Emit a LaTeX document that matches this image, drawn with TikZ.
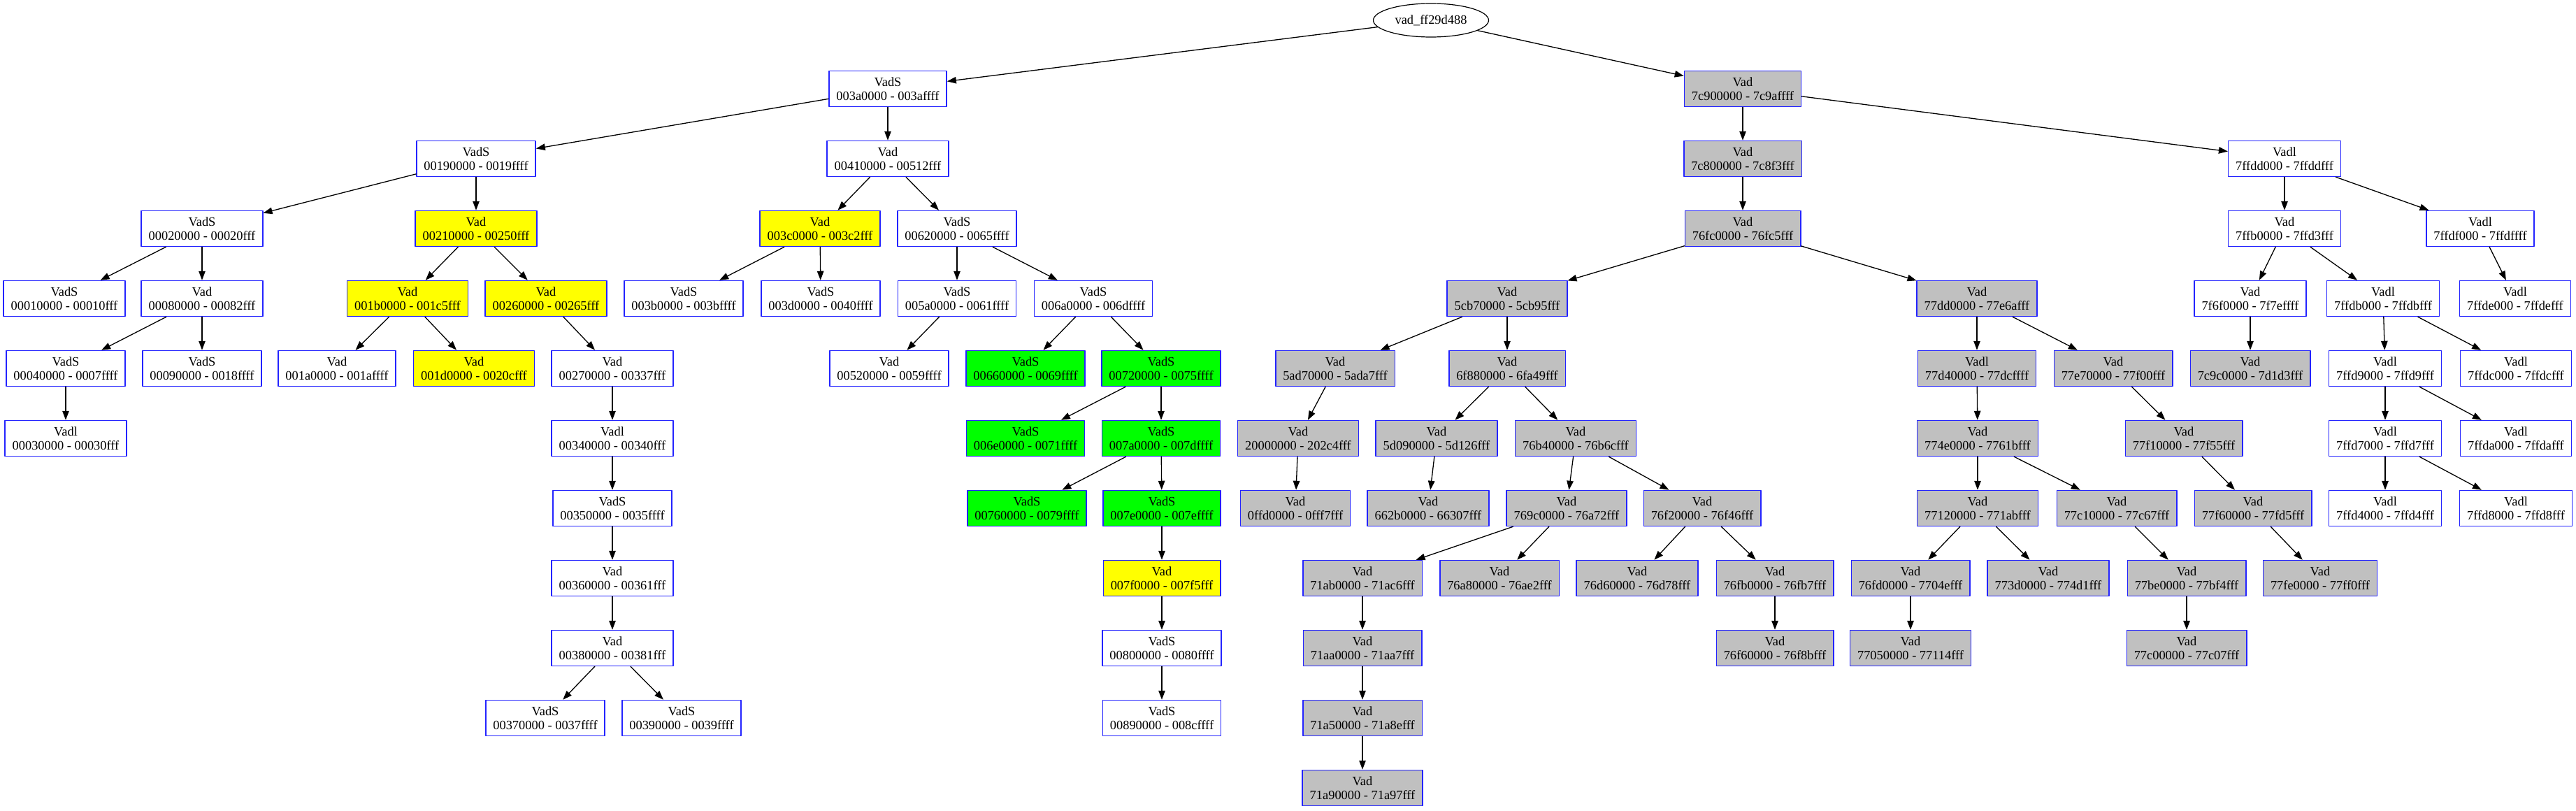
\documentclass[tikz,border=0pt]{standalone}
\usepackage{fontspec}
\setmainfont{Liberation Serif}
\usetikzlibrary{arrows.meta,shapes.geometric}

\definecolor{vadblue}{RGB}{35,35,255}
\definecolor{vadgray}{RGB}{192,192,192}
\definecolor{vadyellow}{RGB}{255,255,0}
\definecolor{vadgreen}{RGB}{0,255,0}

\begin{document}
\begin{tikzpicture}[>={Triangle[length=13pt,width=9.5pt]}, line cap=round, line join=round,
  x=1pt, y=-100pt,
  vad/.style={draw=vadblue, line width=1.5pt, fill=white, align=center,
    minimum height=51pt, inner xsep=10.5pt, inner ysep=2pt,
    font=\fontsize{18.4}{19.7}\selectfont},
  vadgr/.style={vad, fill=vadgray},
  vadye/.style={vad, fill=vadyellow},
  vadgn/.style={vad, fill=vadgreen},
  link/.style={->, line width=1.3pt}]

% ----------------------------
% PAGE (one level = 100pt)
% ----------------------------
\useasboundingbox (0,-0.27) rectangle (3685,11.32);

% ----------------------------
% ROOT
% ----------------------------
\node[ellipse, draw, line width=1.2pt, minimum width=165pt, minimum height=48pt,
  inner sep=0pt, font=\fontsize{18.4}{19.7}\selectfont] (root) at (2047,0.02) {vad\_ff29d488};

% ----------------------------
% LEVEL 1-3
% ----------------------------
\node[vad]   (v003a0000) at (1270,1) {VadS\\003a0000 - 003affff};
\node[vadgr] (v7c900000) at (2493,1) {Vad\\7c900000 - 7c9affff};

\node[vad]   (v00190000) at (681,2)  {VadS\\00190000 - 0019ffff};
\node[vad]   (v00410000) at (1270,2) {Vad\\00410000 - 00512fff};
\node[vadgr] (v7c800000) at (2493,2) {Vad\\7c800000 - 7c8f3fff};
\node[vad]   (v7ffdd000) at (3268,2) {Vadl\\7ffdd000 - 7ffddfff};

\node[vad]   (v00020000) at (289,3)  {VadS\\00020000 - 00020fff};
\node[vadye] (v00210000) at (681,3)  {Vad\\00210000 - 00250fff};
\node[vadye] (v003c0000) at (1173,3) {Vad\\003c0000 - 003c2fff};
\node[vad]   (v00620000) at (1369,3) {VadS\\00620000 - 0065ffff};
\node[vadgr] (v76fc0000) at (2493,3) {Vad\\76fc0000 - 76fc5fff};
\node[vad]   (v7ffb0000) at (3268,3) {Vad\\7ffb0000 - 7ffd3fff};
\node[vad]   (v7ffdf000) at (3548,3) {Vadl\\7ffdf000 - 7ffdffff};

% ----------------------------
% LEVEL 4-5
% ----------------------------
\node[vad]   (v00010000) at (92,4)   {VadS\\00010000 - 00010fff};
\node[vad]   (v00080000) at (289,4)  {Vad\\00080000 - 00082fff};
\node[vadye] (v001b0000) at (583,4)  {Vad\\001b0000 - 001c5fff};
\node[vadye] (v00260000) at (781,4)  {Vad\\00260000 - 00265fff};
\node[vad]   (v003b0000) at (978,4)  {VadS\\003b0000 - 003bffff};
\node[vad]   (v003d0000) at (1174,4) {VadS\\003d0000 - 0040ffff};
\node[vad]   (v005a0000) at (1369,4) {VadS\\005a0000 - 0061ffff};
\node[vad]   (v006a0000) at (1564,4) {VadS\\006a0000 - 006dffff};
\node[vadgr] (v5cb70000) at (2156,4) {Vad\\5cb70000 - 5cb95fff};
\node[vadgr] (v77dd0000) at (2828,4) {Vad\\77dd0000 - 77e6afff};
\node[vad]   (v7f6f0000) at (3219,4) {Vad\\7f6f0000 - 7f7effff};
\node[vad]   (v7ffdb000) at (3409,4) {Vadl\\7ffdb000 - 7ffdbfff};
\node[vad]   (v7ffde000) at (3598,4) {Vadl\\7ffde000 - 7ffdefff};

\node[vad]   (v00040000) at (94,5)   {VadS\\00040000 - 0007ffff};
\node[vad]   (v00090000) at (289,5)  {VadS\\00090000 - 0018ffff};
\node[vad]   (v001a0000) at (482,5)  {Vad\\001a0000 - 001affff};
\node[vadye] (v001d0000) at (678,5)  {Vad\\001d0000 - 0020cfff};
\node[vad]   (v00270000) at (876,5)  {Vad\\00270000 - 00337fff};
\node[vad]   (v00520000) at (1272,5) {Vad\\00520000 - 0059ffff};
\node[vadgn] (v00660000) at (1467,5) {VadS\\00660000 - 0069ffff};
\node[vadgn] (v00720000) at (1661,5) {VadS\\00720000 - 0075ffff};
\node[vadgr] (v5ad70000) at (1910,5) {Vad\\5ad70000 - 5ada7fff};
\node[vadgr] (v6f880000) at (2156,5) {Vad\\6f880000 - 6fa49fff};
\node[vadgr] (v77d40000) at (2828,5) {Vadl\\77d40000 - 77dcffff};
\node[vadgr] (v77e70000) at (3023,5) {Vad\\77e70000 - 77f00fff};
\node[vadgr] (v7c9c0000) at (3219,5) {Vad\\7c9c0000 - 7d1d3fff};
\node[vad]   (v7ffd9000) at (3412,5) {Vadl\\7ffd9000 - 7ffd9fff};
\node[vad]   (v7ffdc000) at (3599,5) {Vadl\\7ffdc000 - 7ffdcfff};

% ----------------------------
% LEVEL 6-7
% ----------------------------
\node[vad]   (v00030000) at (94,6)   {Vadl\\00030000 - 00030fff};
\node[vad]   (v00340000) at (876,6)  {Vadl\\00340000 - 00340fff};
\node[vadgn] (v006e0000) at (1467,6) {VadS\\006e0000 - 0071ffff};
\node[vadgn] (v007a0000) at (1661,6) {VadS\\007a0000 - 007dffff};
\node[vadgr] (v20000000) at (1857,6) {Vad\\20000000 - 202c4fff};
\node[vadgr] (v5d090000) at (2055,6) {Vad\\5d090000 - 5d126fff};
\node[vadgr] (v76b40000) at (2254,6) {Vad\\76b40000 - 76b6cfff};
\node[vadgr] (v774e0000) at (2829,6) {Vad\\774e0000 - 7761bfff};
\node[vadgr] (v77f10000) at (3124,6) {Vad\\77f10000 - 77f55fff};
\node[vad]   (v7ffd7000) at (3412,6) {Vadl\\7ffd7000 - 7ffd7fff};
\node[vad]   (v7ffda000) at (3599,6) {Vadl\\7ffda000 - 7ffdafff};

\node[vad]   (v00350000) at (876,7)  {VadS\\00350000 - 0035ffff};
\node[vadgn] (v00760000) at (1469,7) {VadS\\00760000 - 0079ffff};
\node[vadgn] (v007e0000) at (1662,7) {VadS\\007e0000 - 007effff};
\node[vadgr] (v0ffd0000) at (1853,7) {Vad\\0ffd0000 - 0fff7fff};
\node[vadgr] (v662b0000) at (2043,7) {Vad\\662b0000 - 66307fff};
\node[vadgr] (v769c0000) at (2241,7) {Vad\\769c0000 - 76a72fff};
\node[vadgr] (v76f20000) at (2435,7) {Vad\\76f20000 - 76f46fff};
\node[vadgr] (v77120000) at (2829,7) {Vad\\77120000 - 771abfff};
\node[vadgr] (v77c10000) at (3028,7) {Vad\\77c10000 - 77c67fff};
\node[vadgr] (v77f60000) at (3223,7) {Vad\\77f60000 - 77fd5fff};
\node[vad]   (v7ffd4000) at (3412,7) {Vadl\\7ffd4000 - 7ffd4fff};
\node[vad]   (v7ffd8000) at (3599,7) {Vadl\\7ffd8000 - 7ffd8fff};

% ----------------------------
% LEVEL 8-11
% ----------------------------
\node[vad]   (v00360000) at (876,8)  {Vad\\00360000 - 00361fff};
\node[vadye] (v007f0000) at (1662,8) {Vad\\007f0000 - 007f5fff};
\node[vadgr] (v71ab0000) at (1949,8) {Vad\\71ab0000 - 71ac6fff};
\node[vadgr] (v76a80000) at (2145,8) {Vad\\76a80000 - 76ae2fff};
\node[vadgr] (v76d60000) at (2342,8) {Vad\\76d60000 - 76d78fff};
\node[vadgr] (v76fb0000) at (2539,8) {Vad\\76fb0000 - 76fb7fff};
\node[vadgr] (v76fd0000) at (2733,8) {Vad\\76fd0000 - 7704efff};
\node[vadgr] (v773d0000) at (2930,8) {Vad\\773d0000 - 774d1fff};
\node[vadgr] (v77be0000) at (3128,8) {Vad\\77be0000 - 77bf4fff};
\node[vadgr] (v77fe0000) at (3319,8) {Vad\\77fe0000 - 77ff0fff};

\node[vad]   (v00380000) at (876,9)  {Vad\\00380000 - 00381fff};
\node[vad]   (v00800000) at (1662,9) {VadS\\00800000 - 0080ffff};
\node[vadgr] (v71aa0000) at (1949,9) {Vad\\71aa0000 - 71aa7fff};
\node[vadgr] (v76f60000) at (2539,9) {Vad\\76f60000 - 76f8bfff};
\node[vadgr] (v77050000) at (2733,9) {Vad\\77050000 - 77114fff};
\node[vadgr] (v77c00000) at (3128,9) {Vad\\77c00000 - 77c07fff};

\node[vad]   (v00370000) at (780,10)  {VadS\\00370000 - 0037ffff};
\node[vad]   (v00390000) at (975,10)  {VadS\\00390000 - 0039ffff};
\node[vad]   (v00890000) at (1662,10) {VadS\\00890000 - 008cffff};
\node[vadgr] (v71a50000) at (1949,10) {Vad\\71a50000 - 71a8efff};

\node[vadgr] (v71a90000) at (1949,11) {Vad\\71a90000 - 71a97fff};

% ----------------------------
% LEFT SUBTREE
% ----------------------------
\draw[link] (root) -- (v003a0000);
\draw[link] (v003a0000) -- (v00190000);
\draw[link] (v003a0000) -- (v00410000);
\draw[link] (v00190000) -- (v00020000);
\draw[link] (v00190000) -- (v00210000);
\draw[link] (v00020000) -- (v00010000);
\draw[link] (v00020000) -- (v00080000);
\draw[link] (v00080000) -- (v00040000);
\draw[link] (v00080000) -- (v00090000);
\draw[link] (v00040000) -- (v00030000);
\draw[link] (v00210000) -- (v001b0000);
\draw[link] (v00210000) -- (v00260000);
\draw[link] (v001b0000) -- (v001a0000);
\draw[link] (v001b0000) -- (v001d0000);
\draw[link] (v00260000) -- (v00270000);
\draw[link] (v00270000) -- (v00340000);
\draw[link] (v00340000) -- (v00350000);
\draw[link] (v00350000) -- (v00360000);
\draw[link] (v00360000) -- (v00380000);
\draw[link] (v00380000) -- (v00370000);
\draw[link] (v00380000) -- (v00390000);
\draw[link] (v00410000) -- (v003c0000);
\draw[link] (v00410000) -- (v00620000);
\draw[link] (v003c0000) -- (v003b0000);
\draw[link] (v003c0000) -- (v003d0000);
\draw[link] (v00620000) -- (v005a0000);
\draw[link] (v00620000) -- (v006a0000);
\draw[link] (v005a0000) -- (v00520000);
\draw[link] (v006a0000) -- (v00660000);
\draw[link] (v006a0000) -- (v00720000);
\draw[link] (v00720000) -- (v006e0000);
\draw[link] (v00720000) -- (v007a0000);
\draw[link] (v007a0000) -- (v00760000);
\draw[link] (v007a0000) -- (v007e0000);
\draw[link] (v007e0000) -- (v007f0000);
\draw[link] (v007f0000) -- (v00800000);
\draw[link] (v00800000) -- (v00890000);

% ----------------------------
% RIGHT SUBTREE
% ----------------------------
\draw[link] (root) -- (v7c900000);
\draw[link] (v7c900000) -- (v7c800000);
\draw[link] (v7c900000) -- (v7ffdd000);
\draw[link] (v7c800000) -- (v76fc0000);
\draw[link] (v76fc0000) -- (v5cb70000);
\draw[link] (v76fc0000) -- (v77dd0000);
\draw[link] (v5cb70000) -- (v5ad70000);
\draw[link] (v5cb70000) -- (v6f880000);
\draw[link] (v5ad70000) -- (v20000000);
\draw[link] (v20000000) -- (v0ffd0000);
\draw[link] (v6f880000) -- (v5d090000);
\draw[link] (v6f880000) -- (v76b40000);
\draw[link] (v5d090000) -- (v662b0000);
\draw[link] (v76b40000) -- (v769c0000);
\draw[link] (v76b40000) -- (v76f20000);
\draw[link] (v769c0000) -- (v71ab0000);
\draw[link] (v769c0000) -- (v76a80000);
\draw[link] (v71ab0000) -- (v71aa0000);
\draw[link] (v71aa0000) -- (v71a50000);
\draw[link] (v71a50000) -- (v71a90000);
\draw[link] (v76f20000) -- (v76d60000);
\draw[link] (v76f20000) -- (v76fb0000);
\draw[link] (v76fb0000) -- (v76f60000);
\draw[link] (v77dd0000) -- (v77d40000);
\draw[link] (v77dd0000) -- (v77e70000);
\draw[link] (v77d40000) -- (v774e0000);
\draw[link] (v774e0000) -- (v77120000);
\draw[link] (v774e0000) -- (v77c10000);
\draw[link] (v77120000) -- (v76fd0000);
\draw[link] (v77120000) -- (v773d0000);
\draw[link] (v76fd0000) -- (v77050000);
\draw[link] (v77c10000) -- (v77be0000);
\draw[link] (v77be0000) -- (v77c00000);
\draw[link] (v77e70000) -- (v77f10000);
\draw[link] (v77f10000) -- (v77f60000);
\draw[link] (v77f60000) -- (v77fe0000);
\draw[link] (v7ffdd000) -- (v7ffb0000);
\draw[link] (v7ffdd000) -- (v7ffdf000);
\draw[link] (v7ffb0000) -- (v7f6f0000);
\draw[link] (v7ffb0000) -- (v7ffdb000);
\draw[link] (v7f6f0000) -- (v7c9c0000);
\draw[link] (v7ffdb000) -- (v7ffd9000);
\draw[link] (v7ffdb000) -- (v7ffdc000);
\draw[link] (v7ffd9000) -- (v7ffd7000);
\draw[link] (v7ffd9000) -- (v7ffda000);
\draw[link] (v7ffd7000) -- (v7ffd4000);
\draw[link] (v7ffd7000) -- (v7ffd8000);
\draw[link] (v7ffdf000) -- (v7ffde000);

\end{tikzpicture}
\end{document}
